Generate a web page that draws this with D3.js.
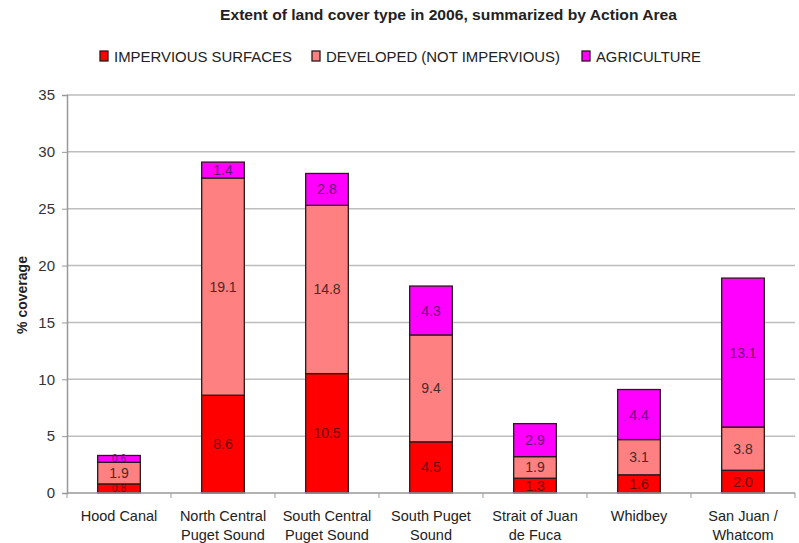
<!DOCTYPE html>
<html><head><meta charset="utf-8">
<script src="https://cdn.jsdelivr.net/npm/d3@7"></script>
<style>body{margin:0;background:#fff}svg{display:block;font-family:"Liberation Sans",Arial,sans-serif}</style>
</head><body><svg id="c" width="799" height="543"></svg>
<script>
const categories = ["Hood Canal","North Central|Puget Sound","South Central|Puget Sound","South Puget|Sound","Strait of Juan|de Fuca","Whidbey","San Juan /|Whatcom"];
const impervious = [0.8, 8.6, 10.5, 4.5, 1.3, 1.6, 2.0];
const developed = [1.9, 19.1, 14.8, 9.4, 1.9, 3.1, 3.8];
const agriculture = [0.6, 1.4, 2.8, 4.3, 2.9, 4.4, 13.1];
const seriesNames = ["IMPERVIOUS SURFACES","DEVELOPED (NOT IMPERVIOUS)","AGRICULTURE"];
const colors = ["#ff0000","#ff8080","#ff00ff"];
const yTicks = [0,5,10,15,20,25,30,35];

const svg = d3.select("#c");
const m = {l:67, r:795, t:95, b:493};
const x = d3.scaleBand().domain(categories).range([m.l, m.r]).paddingInner(0).paddingOuter(0);
const y = d3.scaleLinear().domain([0,35]).range([m.b, m.t]);

// gridlines
svg.append("g").selectAll("line").data(yTicks.filter(d=>d>0)).join("line")
  .attr("x1", m.l).attr("x2", m.r).attr("y1", d=>y(d)).attr("y2", d=>y(d))
  .attr("stroke","#bdbdbd").attr("stroke-width",1.5);

// y axis
const ya = svg.append("g").attr("transform",`translate(${m.l},0)`)
  .call(d3.axisLeft(y).tickValues(yTicks).tickSize(5).tickPadding(7));
ya.select(".domain").attr("stroke","#999").attr("stroke-width",1.5);
ya.selectAll(".tick line").attr("stroke","#999");
ya.selectAll("text").attr("font-size",15).attr("fill","#333").attr("font-family","Liberation Sans, Arial");

// stacked data
const rows = categories.map((c,i)=>({cat:c, a:impervious[i], b:developed[i], c:agriculture[i]}));
const stack = d3.stack().keys(["a","b","c"])(rows);
const bw = x.bandwidth()*0.41;
stack.forEach((layer, li)=>{
  const g = svg.append("g");
  g.selectAll("rect").data(layer).join("rect")
    .attr("x", d=>x(d.data.cat)+x.bandwidth()/2-bw/2)
    .attr("width", bw)
    .attr("y", d=>y(d[1]))
    .attr("height", d=>y(d[0])-y(d[1]))
    .attr("fill", colors[li]).attr("stroke","#2a1a1a").attr("stroke-width",1.3);
  g.selectAll("text").data(layer).join("text")
    .attr("x", d=>x(d.data.cat)+x.bandwidth()/2)
    .attr("y", d=>(y(d[0])+y(d[1]))/2)
    .attr("dy","0.36em").attr("text-anchor","middle")
    .attr("font-size", d=>(d[1]-d[0]) < 1 ? 10 : 14)
    .attr("fill", li===0 ? "#6a0a0a" : (li===2 ? "#6a1070" : "#4a2a2a"))
    .text(d=>(d[1]-d[0]).toFixed(1));
});

// x axis
svg.append("line").attr("x1",m.l).attr("x2",m.r).attr("y1",m.b).attr("y2",m.b).attr("stroke","#999").attr("stroke-width",1.5);
svg.append("g").selectAll("line").data(d3.range(categories.length+1)).join("line")
  .attr("x1", i=>m.l + i*x.step()).attr("x2", i=>m.l + i*x.step())
  .attr("y1", m.b).attr("y2", m.b+5).attr("stroke","#999");
const xl = svg.append("g").selectAll("text").data(categories).join("text")
  .attr("x", d=>x(d)+x.bandwidth()/2).attr("y", 521)
  .attr("text-anchor","middle").attr("font-size",14.5).attr("fill","#222");
xl.each(function(d){
  const parts = d.split("|");
  const t = d3.select(this);
  parts.forEach((p,i)=>t.append("tspan").attr("x", x(d)+x.bandwidth()/2).attr("dy", i===0?0:"1.3em").text(p));
});

// title
svg.append("text").attr("x",220).attr("y",20)
  .attr("font-size",15).attr("font-weight","bold").attr("fill","#222")
  .attr("textLength",457).attr("lengthAdjust","spacingAndGlyphs")
  .text("Extent of land cover type in 2006, summarized by Action Area");

// y label
svg.append("text").attr("transform","translate(27,295) rotate(-90)").attr("text-anchor","middle")
  .attr("font-size",14).attr("font-weight","bold").attr("fill","#222").text("% coverage");

// legend
const legX = [100, 312, 582];
const legW = [178, 234, 105];
const lg = svg.append("g").selectAll("g").data(seriesNames).join("g")
  .attr("transform",(d,i)=>`translate(${legX[i]},56)`);
lg.append("rect").attr("x",0).attr("y",-5).attr("width",8).attr("height",10)
  .attr("fill",(d,i)=>colors[i]).attr("stroke","#2a1a1a").attr("stroke-width",1.3);
lg.append("text").attr("x",14).attr("dy","0.36em").attr("font-size",15.5).attr("fill","#222")
  .attr("textLength",(d,i)=>legW[i]).attr("lengthAdjust","spacingAndGlyphs").text(d=>d);
</script></body></html>
